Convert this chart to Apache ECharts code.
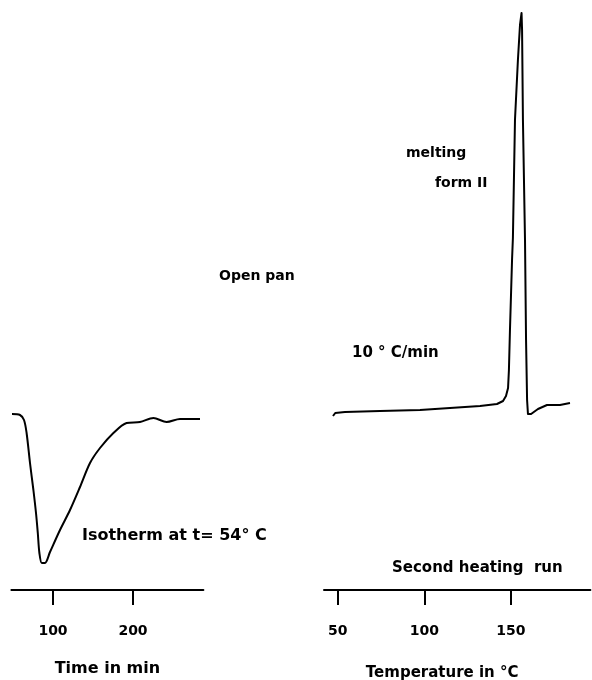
<!DOCTYPE html>
<html>
<head>
<meta charset="utf-8">
<script src="https://cdn.jsdelivr.net/npm/echarts@6/dist/echarts.min.js"></script>
<style>html,body{margin:0;padding:0;background:#fff}#c{width:592px;height:680px}</style>
</head>
<body>
<div id="c"></div>
<script>
// Isotherm at 54 °C: time (min) vs heat flow (arbitrary units)
const isoTime = [48.75, 58.75, 63.75, 67, 71.25, 75.5, 78.75, 81, 83, 86, 90, 96.25, 108.75, 121.25, 133.75, 146.25, 158.75, 175.5, 192, 208.75, 225.5, 242, 258.75, 283.75];
const isoFlow = [17.6, 17.5, 17.0, 15.7, 12.7, 10.0, 7.7, 5.7, 3.7, 2.7, 2.7, 3.8, 6.0, 8.0, 10.3, 12.7, 14.2, 15.7, 16.7, 16.8, 17.2, 16.8, 17.1, 17.1];
// Second heating run at 10 °C/min: temperature (°C) vs heat flow (arbitrary units)
const heatTemp = [47.2, 48.5, 54.1, 74.4, 97.5, 114.8, 132.2, 142.0, 145.5, 147.2, 148.4, 148.9, 149.5, 150.7, 151.2, 152.4, 154.1, 155.3, 156.2, 156.5, 157.0, 158.2, 158.8, 159.4, 159.9, 161.7, 165.7, 170.9, 178.4, 184.2];
const heatFlow = [17.4, 17.7, 17.8, 17.9, 18.0, 18.2, 18.4, 18.6, 18.9, 19.4, 20.2, 22.0, 26.0, 33.0, 35.2, 47.0, 53.0, 56.5, 57.7, 56.0, 47.0, 35.0, 25.0, 19.0, 17.6, 17.6, 18.1, 18.5, 18.5, 18.7];
const timeTicks = [100, 200];
const tempTicks = [50, 100, 150];

const FONT = '"DejaVu Sans"';
const zip = (a, b) => a.map((v, i) => [v, b[i]]);
const chart = echarts.init(document.getElementById('c'));
const axisCommon = {
  type: 'value',
  axisLine: {show: true, onZero: false, lineStyle: {color: '#000', width: 2}},
  axisTick: {show: true, inside: false, length: 15, lineStyle: {color: '#000', width: 2}},
  axisLabel: {color: '#000', fontFamily: 'DejaVu Sans', fontSize: 14, fontWeight: 'bold', margin: 34},
  splitLine: {show: false},
  nameLocation: 'middle',
  nameTextStyle: {color: '#000', fontFamily: 'DejaVu Sans', fontSize: 16, fontWeight: 'bold'}
};
chart.setOption({
  backgroundColor: '#fff',
  animation: false,
  grid: [
    {left: 11.4, width: 192, top: 10, bottom: 90, containLabel: false, outerBoundsMode: 'none'},
    {left: 324, width: 266.4, top: 10, bottom: 90, containLabel: false, outerBoundsMode: 'none'}
  ],
  xAxis: [
    Object.assign({}, axisCommon, {gridIndex: 0, min: 48, max: 288, name: 'Time in min', nameGap: 71,
      axisTick: Object.assign({}, axisCommon.axisTick, {customValues: timeTicks}),
      axisLabel: Object.assign({}, axisCommon.axisLabel, {customValues: timeTicks})}),
    Object.assign({}, axisCommon, {gridIndex: 1, min: 42, max: 196, name: 'Temperature in °C', nameGap: 76,
      nameTextStyle: Object.assign({}, axisCommon.nameTextStyle, {fontSize: 15, padding: [0, 30, 0, 0]}),
      axisTick: Object.assign({}, axisCommon.axisTick, {customValues: tempTicks}),
      axisLabel: Object.assign({}, axisCommon.axisLabel, {customValues: tempTicks})})
  ],
  yAxis: [
    {type: 'value', gridIndex: 0, min: 0, max: 58, show: false},
    {type: 'value', gridIndex: 1, min: 0, max: 58, show: false}
  ],
  series: [
    {type: 'line', xAxisIndex: 0, yAxisIndex: 0, data: zip(isoTime, isoFlow), smooth: 0.3, showSymbol: false,
      lineStyle: {color: '#000', width: 2}},
    {type: 'line', xAxisIndex: 1, yAxisIndex: 1, data: zip(heatTemp, heatFlow), smooth: false, showSymbol: false,
      lineStyle: {color: '#000', width: 2, join: 'round'}}
  ],
  graphic: [
    {type: 'text', left: 406, top: 146, style: {text: 'melting', font: 'bold 14px ' + FONT, fill: '#000'}},
    {type: 'text', left: 435, top: 176, style: {text: 'form II', font: 'bold 14px ' + FONT, fill: '#000'}},
    {type: 'text', left: 219, top: 269, style: {text: 'Open pan', font: 'bold 14px ' + FONT, fill: '#000'}},
    {type: 'text', left: 352, top: 346, style: {text: '10 ° C/min', font: 'bold 15px ' + FONT, fill: '#000'}},
    {type: 'text', left: 82, top: 528, style: {text: 'Isotherm at t= 54° C', font: 'bold 16px ' + FONT, fill: '#000'}},
    {type: 'text', left: 392, top: 561, style: {text: 'Second heating  run', font: 'bold 15px ' + FONT, fill: '#000'}}
  ]
});
</script>
</body>
</html>
